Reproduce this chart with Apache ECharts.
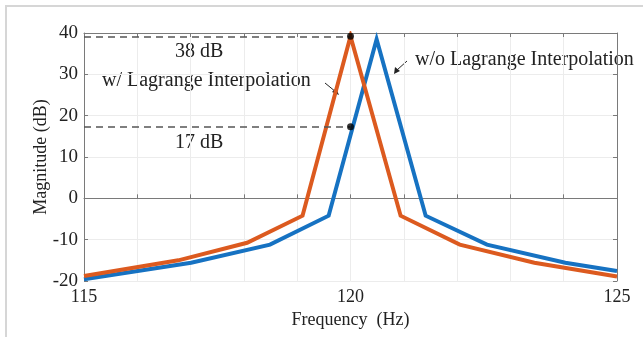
<!DOCTYPE html>
<html>
<head>
<meta charset="utf-8">
<script src="https://cdn.jsdelivr.net/npm/echarts@6/dist/echarts.min.js"></script>
<style>
  html, body { margin: 0; padding: 0; background: #fff; }
  #chart { width: 643px; height: 337px; }
</style>
</head>
<body>
<div id="chart"></div>
<script>
// frequency (Hz) / magnitude (dB)
const withLagFreq = [115, 116.77, 118.06, 119.10, 120, 120.94, 122.05, 123.45, 125];
const withLagMag  = [-18.8, -15.0, -10.75, -4.2, 39.2, -4.2, -11.2, -15.6, -18.9];
const noLagFreq = [115, 117.01, 118.49, 119.59, 120.49, 121.41, 122.56, 124.03, 125];
const noLagMag  = [-19.6, -15.6, -11.2, -4.2, 38.5, -4.2, -11.2, -15.6, -17.6];

// marked points at 120 Hz
const markFreq = [120, 120];
const markMag = [39.2, 17.3];
const markText = ['38 dB', '17 dB'];

const xTicks = [115, 120, 125];
const yTicks = [-20, -10, 0, 10, 20, 30, 40];

const chart = echarts.init(document.getElementById('chart'));

const font = 'Liberation Serif';
const axisGray = '#7a7a7a';

function zip(a, b) { return a.map((v, i) => [v, b[i]]); }

const option = {
  animation: false,
  backgroundColor: '#fff',
  grid: { left: 84, right: 26, top: 33, bottom: 56 },
  xAxis: [
    {
      type: 'value', min: 115, max: 125, interval: 1,
      name: 'Frequency  (Hz)', nameLocation: 'middle', nameGap: 27,
      nameTextStyle: { fontFamily: font, fontSize: 18, color: '#222' },
      axisLine: { lineStyle: { color: axisGray } },
      axisTick: { inside: true, length: 4, lineStyle: { color: axisGray } },
      axisLabel: {
        fontFamily: font, fontSize: 18, color: '#222', margin: 7,
        formatter: v => xTicks.includes(v) ? String(v) : ''
      },
      splitLine: { show: true, lineStyle: { color: '#ececec' } }
    },
    {
      type: 'value', position: 'top', min: 115, max: 125, interval: 1,
      axisLine: { show: true, onZero: false, lineStyle: { color: axisGray } },
      axisTick: { inside: true, length: 4, lineStyle: { color: axisGray } },
      axisLabel: { show: false }, splitLine: { show: false }
    }
  ],
  yAxis: [
    {
      type: 'value', min: -20, max: 40, interval: 10,
      name: 'Magnitude (dB)', nameLocation: 'middle', nameGap: 34,
      nameMoveOverlap: false,
      nameTextStyle: { fontFamily: font, fontSize: 18, color: '#222' },
      axisLine: { show: true, onZero: false, lineStyle: { color: axisGray } },
      axisTick: { show: true, inside: true, length: 4, lineStyle: { color: axisGray } },
      axisLabel: {
        fontFamily: font, fontSize: 19, color: '#222', margin: 6,
        formatter: v => yTicks.includes(v) ? String(v) : ''
      },
      splitLine: { show: true, lineStyle: { color: '#ececec' } }
    },
    {
      type: 'value', position: 'right', min: -20, max: 40, interval: 10,
      axisLine: { show: true, onZero: false, lineStyle: { color: axisGray } },
      axisTick: { show: true, inside: true, length: 4, lineStyle: { color: axisGray } },
      axisLabel: { show: false }, splitLine: { show: false }
    }
  ],
  series: [
    {
      name: 'w/o Lagrange Interpolation',
      type: 'line', data: zip(noLagFreq, noLagMag),
      showSymbol: false, z: 3,
      lineStyle: { color: '#1672c2', width: 4, join: 'miter' }
    },
    {
      name: 'w/ Lagrange Interpolation',
      type: 'line', data: zip(withLagFreq, withLagMag),
      showSymbol: false, z: 4,
      lineStyle: { color: '#dc5a1f', width: 4, join: 'miter' }
    },
    {
      type: 'scatter', z: 6,
      data: zip(markFreq, markMag),
      symbolSize: 7, itemStyle: { color: '#000' },
      markLine: {
        silent: true, symbol: 'none', animation: false,
        lineStyle: { color: '#555', type: [7, 5], width: 1.5 },
        label: { show: false },
        data: markMag.map(m => [{ coord: [115, m] }, { coord: [120, m] }])
      }
    }
  ],
  graphic: [
    {
      type: 'rect', silent: true, z: 100,
      shape: { x: 6, y: 6, width: 700, height: 400 },
      style: { fill: 'none', stroke: '#d6d6d6', lineWidth: 2 }
    },
    {
      type: 'text', left: 175, top: 42,
      style: { text: markText[0], font: '20px "Liberation Serif"', fill: '#222' }
    },
    {
      type: 'text', left: 175, top: 133,
      style: { text: markText[1], font: '20px "Liberation Serif"', fill: '#222' }
    },
    {
      type: 'text', left: 102, top: 71,
      style: { text: 'w/ Lagrange Interpolation', font: '20px "Liberation Serif"', fill: '#222' }
    },
    {
      type: 'text', left: 415, top: 50,
      style: { text: 'w/o Lagrange Interpolation', font: '20px "Liberation Serif"', fill: '#222' }
    },
    // arrows pointing at the curves
    {
      type: 'line', silent: true,
      shape: { x1: 325, y1: 83, x2: 336, y2: 92 },
      style: { stroke: '#222', lineWidth: 1 }
    },
    {
      type: 'polygon', silent: true,
      shape: { points: [[339, 95], [332, 92], [336, 88]] },
      style: { fill: '#222' }
    },
    {
      type: 'line', silent: true,
      shape: { x1: 407, y1: 61, x2: 397, y2: 70 },
      style: { stroke: '#222', lineWidth: 1 }
    },
    {
      type: 'polygon', silent: true,
      shape: { points: [[394, 74], [395, 67], [400, 71]] },
      style: { fill: '#222' }
    }
  ]
};

chart.setOption(option);
</script>
</body>
</html>
